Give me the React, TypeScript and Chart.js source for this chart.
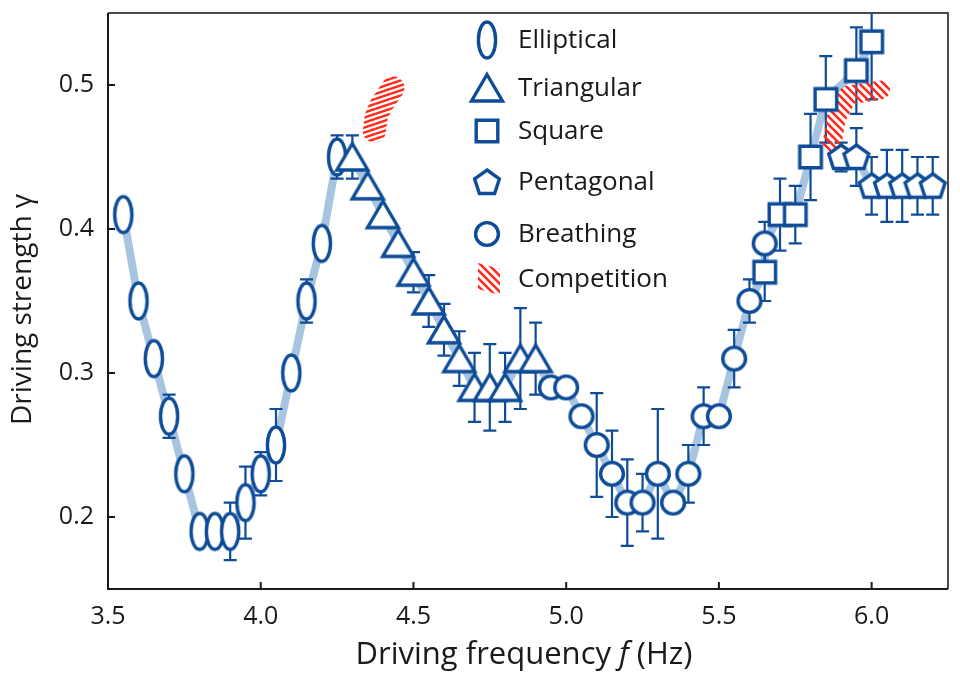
import React, { useEffect, useRef } from "react";
import { Chart, registerables } from "chart.js";
Chart.register(...registerables);

const FONT = "'Open Sans', 'Noto Sans', sans-serif";
const BLUE = "#0e4c98";
const LIGHT = "#a9c4e0";
const RED = "#ff2a1a";
const INK = "#1a1a1a";

// ---- data ----
const ellipticalF = [3.55, 3.6, 3.65, 3.7, 3.75, 3.8, 3.85, 3.9, 3.95, 4.0, 4.05, 4.1, 4.15, 4.2, 4.25];
const ellipticalG = [0.41, 0.35, 0.31, 0.27, 0.23, 0.19, 0.19, 0.19, 0.21, 0.23, 0.25, 0.3, 0.35, 0.39, 0.45];
const ellipticalE = [0, 0, 0, 0.015, 0, 0, 0, 0.02, 0.025, 0.015, 0.025, 0, 0.015, 0, 0.015];

const triangularF = [4.3, 4.35, 4.4, 4.45, 4.5, 4.55, 4.6, 4.65, 4.7, 4.75, 4.8, 4.85, 4.9];
const triangularG = [0.45, 0.43, 0.41, 0.39, 0.37, 0.35, 0.33, 0.31, 0.29, 0.29, 0.29, 0.31, 0.31];
const triangularE = [0.015, 0, 0, 0, 0.014, 0.018, 0.018, 0.019, 0.024, 0.03, 0.024, 0.035, 0.025];

const breathingF = [4.95, 5.0, 5.05, 5.1, 5.15, 5.2, 5.25, 5.3, 5.35, 5.4, 5.45, 5.5, 5.55, 5.6, 5.65];
const breathingG = [0.29, 0.29, 0.27, 0.25, 0.23, 0.21, 0.21, 0.23, 0.21, 0.23, 0.27, 0.27, 0.31, 0.35, 0.39];
const breathingE = [0, 0, 0, 0.036, 0.03, 0.03, 0.02, 0.045, 0, 0.02, 0.02, 0, 0.02, 0.015, 0.015];

const squareF = [5.65, 5.7, 5.75, 5.8, 5.85, 5.95, 6.0];
const squareG = [0.37, 0.41, 0.41, 0.45, 0.49, 0.51, 0.53];
const squareE = [0.02, 0.025, 0.02, 0.03, 0.03, 0.03, 0.04];

const pentagonalF = [5.9, 5.95, 6.0, 6.05, 6.1, 6.15, 6.2];
const pentagonalG = [0.45, 0.45, 0.43, 0.43, 0.43, 0.43, 0.43];
const pentagonalE = [0.01, 0.02, 0.02, 0.025, 0.025, 0.02, 0.02];

// competition (hatched) regions, centre lines
const competitionAF = [4.372, 4.378, 4.394, 4.433];
const competitionAG = [0.468, 0.478, 0.486, 0.498];
const competitionBF = [5.871, 5.884, 5.923, 6.029];
const competitionBG = [0.46, 0.477, 0.493, 0.4965];

const xTickValues = [3.5, 4.0, 4.5, 5.0, 5.5, 6.0];
const yTickValues = [0.2, 0.3, 0.4, 0.5];

const legendLabels = ["Elliptical", "Triangular", "Square", "Pentagonal", "Breathing", "Competition"];
const xTitle = ["Driving frequency ", "f", " (Hz)"];
const yTitle = "Driving strength γ";

const zip = (fs: number[], gs: number[]) => fs.map((f, i) => ({ x: f, y: gs[i] }));

function markerCanvas(kind: string): HTMLCanvasElement {
  const c = document.createElement("canvas");
  let w = 30, h = 30;
  if (kind === "ellipse") { w = 24; h = 44; }
  if (kind === "triangle") { w = 38; h = 34; }
  if (kind === "square") { w = 28; h = 28; }
  c.width = w; c.height = h;
  const g = c.getContext("2d")!;
  g.lineWidth = 3.4;
  g.strokeStyle = BLUE;
  g.fillStyle = "#ffffff";
  g.beginPath();
  if (kind === "ellipse") g.ellipse(w / 2, h / 2, 8.6, 18, 0, 0, Math.PI * 2);
  else if (kind === "triangle") { g.moveTo(w / 2, 3.5); g.lineTo(w - 3.5, h - 4); g.lineTo(3.5, h - 4); g.closePath(); }
  else if (kind === "square") g.rect(3.2, 3.2, w - 6.4, h - 6.4);
  else if (kind === "circle") g.arc(w / 2, h / 2, 11.4, 0, Math.PI * 2);
  else if (kind === "pentagon") {
    const r = 13;
    for (let i = 0; i < 5; i++) {
      const a = -Math.PI / 2 + (i * 2 * Math.PI) / 5;
      const px = w / 2 + r * Math.cos(a), py = h / 2 + 1 + r * Math.sin(a);
      if (i === 0) g.moveTo(px, py); else g.lineTo(px, py);
    }
    g.closePath();
  }
  g.fill();
  g.stroke();
  return c;
}

function hatchTile(kind: string): HTMLCanvasElement {
  const c = document.createElement("canvas");
  if (kind === "diag") {
    c.width = 8; c.height = 8;
    const g = c.getContext("2d")!;
    g.strokeStyle = RED; g.lineWidth = 2.6;
    g.beginPath();
    g.moveTo(-2, -2); g.lineTo(10, 10);
    g.moveTo(-2, 6); g.lineTo(2, 10);
    g.moveTo(6, -2); g.lineTo(10, 2);
    g.stroke();
  } else {
    c.width = 15; c.height = 5;
    const g = c.getContext("2d")!;
    g.strokeStyle = RED; g.lineWidth = 2.4;
    g.beginPath();
    for (let k = -1; k <= 2; k++) {
      g.moveTo(0, 4 + k * 5);
      g.lineTo(15, -1 + k * 5);
    }
    g.stroke();
  }
  return c;
}

export default function App() {
  const ref = useRef<HTMLCanvasElement | null>(null);

  useEffect(() => {
    const canvas = ref.current!;
    const ctx0 = canvas.getContext("2d")!;
    const mk = {
      ellipse: markerCanvas("ellipse"),
      triangle: markerCanvas("triangle"),
      square: markerCanvas("square"),
      pentagon: markerCanvas("pentagon"),
      circle: markerCanvas("circle"),
    };
    const diagPattern = ctx0.createPattern(hatchTile("diag"), "repeat")!;
    const flatPattern = ctx0.createPattern(hatchTile("flat"), "repeat")!;

    const series = [
      { f: ellipticalF, g: ellipticalG, e: ellipticalE },
      { f: triangularF, g: triangularG, e: triangularE },
      { f: squareF, g: squareG, e: squareE },
      { f: pentagonalF, g: pentagonalG, e: pentagonalE },
      { f: breathingF, g: breathingG, e: breathingE },
    ];

    const mainPath = [
      ...zip(ellipticalF, ellipticalG),
      ...zip(triangularF, triangularG),
      ...zip(breathingF, breathingG),
      ...zip(squareF, squareG),
    ].sort((a, b) => a.x - b.x || a.y - b.y);

    const lineBase = { showLine: true, pointRadius: 0, tension: 0, borderJoinStyle: "round", borderCapStyle: "round" };

    const decor = {
      id: "decor",
      afterDatasetDraw(chart: any, args: any) {
        if (args.index !== 1) return;
        const { ctx, chartArea: a, scales } = chart;
        ctx.save();
        ctx.beginPath();
        ctx.rect(a.left, a.top, a.right - a.left, a.bottom - a.top);
        ctx.clip();
        ctx.strokeStyle = BLUE;
        ctx.lineWidth = 2.2;
        for (const s of series) {
          s.f.forEach((f, i) => {
            const e = s.e[i];
            if (!e) return;
            const px = scales.x.getPixelForValue(f);
            const t = scales.y.getPixelForValue(s.g[i] + e);
            const b = scales.y.getPixelForValue(s.g[i] - e);
            ctx.beginPath();
            ctx.moveTo(px, t); ctx.lineTo(px, b);
            ctx.moveTo(px - 6.5, t); ctx.lineTo(px + 6.5, t);
            ctx.moveTo(px - 6.5, b); ctx.lineTo(px + 6.5, b);
            ctx.stroke();
          });
        }
        ctx.restore();
      },
      afterDraw(chart: any) {
        const { ctx, chartArea: a, scales } = chart;
        ctx.save();
        // frame
        ctx.lineWidth = 2;
        ctx.strokeStyle = "#4a4a4a";
        ctx.beginPath();
        ctx.moveTo(a.left, a.top); ctx.lineTo(a.right, a.top); ctx.lineTo(a.right, a.bottom);
        ctx.stroke();
        ctx.strokeStyle = INK;
        ctx.beginPath();
        ctx.moveTo(a.left, a.top); ctx.lineTo(a.left, a.bottom); ctx.lineTo(a.right, a.bottom);
        ctx.stroke();
        // inner ticks
        ctx.beginPath();
        xTickValues.forEach((v) => {
          const px = scales.x.getPixelForValue(v);
          ctx.moveTo(px, a.bottom); ctx.lineTo(px, a.bottom - 7);
        });
        yTickValues.forEach((v) => {
          const py = scales.y.getPixelForValue(v);
          ctx.moveTo(a.left, py); ctx.lineTo(a.left + 7, py);
        });
        ctx.stroke();

        // x axis title: fitted between x=355 and x=693
        ctx.fillStyle = INK;
        ctx.textBaseline = "middle";
        ctx.textAlign = "left";
        const base = 30;
        const widthAt = (size: number) => {
          ctx.font = `${size}px ${FONT}`;
          const a0 = ctx.measureText(xTitle[0]).width + ctx.measureText(xTitle[2]).width;
          ctx.font = `italic ${size}px ${FONT}`;
          return a0 + ctx.measureText(xTitle[1]).width;
        };
        const xs = Math.min(31, base * 338 / widthAt(base));
        const fN = `${xs}px ${FONT}`;
        const fI = `italic ${xs}px ${FONT}`;
        ctx.font = fN;
        const w0 = ctx.measureText(xTitle[0]).width;
        const w2 = ctx.measureText(xTitle[2]).width;
        ctx.font = fI;
        const w1 = ctx.measureText(xTitle[1]).width;
        let x0 = 524 - (w0 + w1 + w2) / 2;
        const ty = 655;
        ctx.font = fN; ctx.fillText(xTitle[0], x0, ty); x0 += w0;
        ctx.font = fI; ctx.fillText(xTitle[1], x0, ty); x0 += w1;
        ctx.font = fN; ctx.fillText(xTitle[2], x0, ty);

        // y axis title: runs upward from y=425 to y=173
        ctx.font = `26px ${FONT}`;
        const yw = ctx.measureText(yTitle).width;
        const ys = Math.min(28, 26 * 252 / yw);
        ctx.save();
        ctx.translate(23, 425);
        ctx.rotate(-Math.PI / 2);
        ctx.textAlign = "left";
        ctx.font = `${ys}px ${FONT}`;
        ctx.fillText(yTitle, 0, 0);
        ctx.restore();

        // legend
        const rows = [40, 88, 131, 182, 234, 279];
        const icons = [mk.ellipse, mk.triangle, mk.square, mk.pentagon, mk.circle];
        ctx.font = `26px ${FONT}`;
        ctx.textAlign = "left";
        legendLabels.forEach((label, i) => {
          const cy = rows[i];
          if (i < icons.length) {
            const im = icons[i];
            ctx.drawImage(im, 487 - im.width / 2, cy - im.height / 2);
          } else {
            ctx.save();
            ctx.fillStyle = diagPattern;
            ctx.beginPath();
            ctx.moveTo(478, cy - 16);
            ctx.lineTo(500, cy - 10);
            ctx.lineTo(500, cy + 16);
            ctx.lineTo(478, cy + 10);
            ctx.closePath();
            ctx.fill();
            ctx.restore();
          }
          ctx.fillStyle = INK;
          ctx.fillText(label, 518, cy + 1);
        });
        ctx.restore();
      },
    };

    const chart = new Chart(canvas, {
      type: "scatter",
      data: {
        datasets: [
          { ...lineBase, data: mainPath, borderColor: LIGHT, borderWidth: 8, order: 20 } as any,
          { ...lineBase, data: zip(pentagonalF, pentagonalG), borderColor: LIGHT, borderWidth: 8, order: 19 } as any,
          { ...lineBase, data: zip(competitionAF, competitionAG), borderColor: flatPattern, borderWidth: 23, order: 10 } as any,
          { ...lineBase, data: zip(competitionBF, competitionBG), borderColor: diagPattern, borderWidth: 19, order: 10 } as any,
          { data: zip(ellipticalF, ellipticalG), pointStyle: mk.ellipse, order: 4 } as any,
          { data: zip(triangularF, triangularG), pointStyle: mk.triangle, order: 3 } as any,
          { data: zip(breathingF, breathingG), pointStyle: mk.circle, order: 2 } as any,
          { data: zip(squareF, squareG), pointStyle: mk.square, order: 1 } as any,
          { data: zip(pentagonalF, pentagonalG), pointStyle: mk.pentagon, order: 0 } as any,
        ],
      },
      options: {
        animation: false,
        responsive: true,
        maintainAspectRatio: false,
        events: [],
        layout: { padding: { left: 0, right: 12, top: 13, bottom: 0 } },
        plugins: { legend: { display: false }, tooltip: { enabled: false } },
        scales: {
          x: {
            type: "linear",
            min: 3.5,
            max: 6.25,
            grid: { display: false, drawTicks: false },
            border: { display: false },
            afterBuildTicks: (s: any) => { s.ticks = xTickValues.map((v) => ({ value: v })); },
            afterFit: (s: any) => { s.height = 97; s.paddingLeft = 0; s.paddingRight = 0; },
            ticks: {
              padding: 13,
              color: INK,
              font: { family: FONT, size: 25 },
              callback: (v: any) => Number(v).toFixed(1),
              maxRotation: 0,
            },
          },
          y: {
            type: "linear",
            min: 0.15,
            max: 0.55,
            grid: { display: false, drawTicks: false },
            border: { display: false },
            afterBuildTicks: (s: any) => { s.ticks = yTickValues.map((v) => ({ value: v })); },
            afterFit: (s: any) => { s.width = 108; s.paddingTop = 0; s.paddingBottom = 0; },
            ticks: {
              padding: 14,
              color: INK,
              font: { family: FONT, size: 25 },
              callback: (v: any) => Number(v).toFixed(1),
            },
          },
        },
      },
      plugins: [decor],
    });
    return () => chart.destroy();
  }, []);

  return (
    <div style={{ position: "fixed", left: 0, top: 0, width: 960, height: 686, background: "#fff" }}>
      <canvas ref={ref} />
    </div>
  );
}
